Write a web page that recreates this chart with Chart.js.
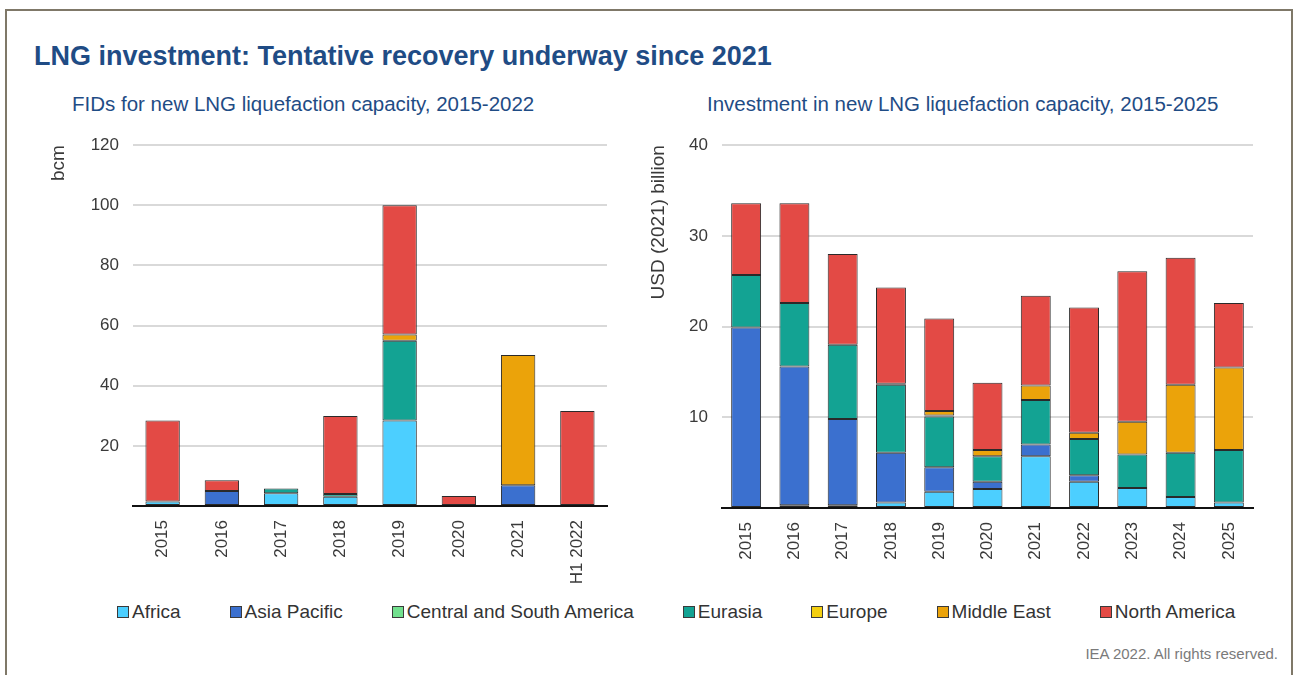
<!DOCTYPE html>
<html>
<head>
<meta charset="utf-8">
<title>LNG investment</title>
<script src="https://cdn.jsdelivr.net/npm/chart.js@4.4.1/dist/chart.umd.min.js"></script>
<style>
  html, body { margin: 0; padding: 0; background: #ffffff; }
  body { width: 1298px; height: 675px; position: relative; overflow: hidden;
         font-family: "Liberation Sans", Arial, sans-serif; }
  .frame { position: absolute; left: 5px; top: 9px; width: 1288px; height: 700px;
           border: 2px solid #7f7868; box-sizing: border-box; }
  .title { position: absolute; left: 34px; top: 41px; font-size: 27px; font-weight: bold;
           color: #1f4c85; white-space: nowrap; }
  .subtitle { position: absolute; top: 92px; font-size: 20.5px; color: #1f4c85; white-space: nowrap; }
  canvas { position: absolute; }
  .legend { position: absolute; left: 117px; top: 601px; display: flex; gap: 49px;
            font-size: 19px; color: #333; white-space: nowrap; }
  .legend .item { display: flex; align-items: center; }
  .legend .sw { width: 10px; height: 10px; border: 1px solid #3a3a3a; margin-right: 3px; }
  .source { position: absolute; right: 20px; top: 645px; font-size: 15px; color: #7a7a7a; }
</style>
</head>
<body>
<div class="frame"></div>
<div class="title">LNG investment: Tentative recovery underway since 2021</div>
<div class="subtitle" style="left:72px">FIDs for new LNG liquefaction capacity, 2015-2022</div>
<div class="subtitle" style="left:707px">Investment in new LNG liquefaction capacity, 2015-2025</div>
<canvas id="fids" width="580" height="479" style="left:40px; top:121px"></canvas>
<canvas id="invest" width="630" height="479" style="left:640px; top:121px"></canvas>
<div class="legend" id="legend"></div>
<div class="source">IEA 2022. All rights reserved.</div>

<script>
// Regions shared by both panels
const regions = ['Africa', 'Asia Pacific', 'Central and South America', 'Eurasia', 'Europe', 'Middle East', 'North America'];
const regionColors = ['#4ccfff', '#3b70cf', '#72e08e', '#13a393', '#f4cf10', '#eba30a', '#e34a45'];

// Left panel: final investment decisions, bcm
const fidYears = ['2015', '2016', '2017', '2018', '2019', '2020', '2021', 'H1 2022'];
const fidAfrica       = [1.5, 0,   4.2, 3.1, 28.4, 0,   0,    0];
const fidAsiaPacific  = [0,   5.0, 0,   0,   0,    0,   6.9,  0];
const fidCentralSouth = [0,   0,   0,   0,   0,    0,   0,    0];
const fidEurasia      = [0,   0,   1.6, 0.9, 26.6, 0,   0,    0];
const fidEurope       = [0,   0,   0,   0,   0,    0,   0,    0];
const fidMiddleEast   = [0,   0,   0,   0,   2.0,  0,   43.3, 0];
const fidNorthAmerica = [26.9, 3.6, 0,  25.9, 43.0, 3.3, 0,   31.6];
const fidTicks = [20, 40, 60, 80, 100, 120];

// Right panel: investment, USD (2021) billion
const invYears = ['2015', '2016', '2017', '2018', '2019', '2020', '2021', '2022', '2023', '2024', '2025'];
const invAfrica       = [0,    0.3,  0.3,  0.6,  1.8,  2.1, 5.7, 2.9,  2.2,  1.2,  0.6];
const invAsiaPacific  = [19.9, 15.3, 9.5,  5.5,  2.7,  0.8, 1.3, 0.7,  0,    0,    0];
const invCentralSouth = [0,    0,    0,    0,    0,    0,   0,   0,    0,    0,    0];
const invEurasia      = [5.8,  7.0,  8.2,  7.5,  5.6,  2.8, 4.9, 4.0,  3.7,  4.9,  5.8];
const invEurope       = [0,    0,    0,    0.1,  0.1,  0,   0,   0,    0,    0,    0];
const invMiddleEast   = [0,    0,    0,    0,    0.5,  0.7, 1.6, 0.7,  3.6,  7.5,  9.1];
const invNorthAmerica = [7.9,  11.0, 10.0, 10.6, 10.2, 7.4, 9.9, 13.8, 16.6, 14.0, 7.1];
const invTicks = [10, 20, 30, 40];

Chart.defaults.font.family = '"Liberation Sans", Arial, sans-serif';
Chart.defaults.color = '#3a3a3a';

function makeDatasets(series, barPct) {
  return series.map((vals, i) => ({
    label: regions[i],
    data: vals,
    backgroundColor: regionColors[i],
    borderColor: '#2a2a2a',
    // empty segments get no outline so nothing is drawn for them
    borderWidth: ctx => (ctx.raw ? 1 : 0),
    borderSkipped: false,
    categoryPercentage: 1,
    barPercentage: barPct
  }));
}

function makeChart(id, labels, series, opts) {
  const tickSet = opts.ticks;
  return new Chart(document.getElementById(id), {
    type: 'bar',
    data: { labels: labels, datasets: makeDatasets(series, opts.barPct) },
    options: {
      responsive: false,
      animation: false,
      layout: { padding: { top: 6, right: opts.padRight, left: 0, bottom: 0 } },
      plugins: { legend: { display: false }, tooltip: { enabled: false } },
      scales: {
        x: {
          stacked: true,
          grid: { display: false },
          border: { display: true, color: '#111', width: 2 },
          ticks: { minRotation: 90, maxRotation: 90, autoSkip: false, padding: 6,
                   font: { size: 17 }, color: '#3a3a3a' },
          afterFit(scale) { scale.height = opts.xHeight; }
        },
        y: {
          stacked: true,
          min: 0,
          max: tickSet[tickSet.length - 1],
          afterBuildTicks(scale) { scale.ticks = [0].concat(tickSet).map(v => ({ value: v })); },
          grid: { color: '#d9d9d9', lineWidth: 2, drawTicks: false },
          border: { display: false },
          ticks: {
            padding: 14,
            font: { size: 17 },
            color: '#3a3a3a',
            callback: v => (v === 0 ? '' : String(v))
          },
          title: { display: true, text: opts.yTitle, align: 'end', font: { size: 19 },
                   color: '#3a3a3a', padding: { top: 7, bottom: 0 } },
          afterFit(scale) { scale.width = opts.yWidth; }
        }
      }
    }
  });
}

makeChart('fids', fidYears,
  [fidAfrica, fidAsiaPacific, fidCentralSouth, fidEurasia, fidEurope, fidMiddleEast, fidNorthAmerica],
  { ticks: fidTicks, yTitle: 'bcm', yWidth: 93, xHeight: 94, padRight: 13, barPct: 0.58 });

makeChart('invest', invYears,
  [invAfrica, invAsiaPacific, invCentralSouth, invEurasia, invEurope, invMiddleEast, invNorthAmerica],
  { ticks: invTicks, yTitle: 'USD (2021) billion', yWidth: 82, xHeight: 92, padRight: 17, barPct: 0.62 });

// Shared legend below both panels
const legend = document.getElementById('legend');
regions.forEach((name, i) => {
  const item = document.createElement('div');
  item.className = 'item';
  const sw = document.createElement('span');
  sw.className = 'sw';
  sw.style.background = regionColors[i];
  const txt = document.createElement('span');
  txt.textContent = name;
  item.appendChild(sw);
  item.appendChild(txt);
  legend.appendChild(item);
});
</script>
</body>
</html>
